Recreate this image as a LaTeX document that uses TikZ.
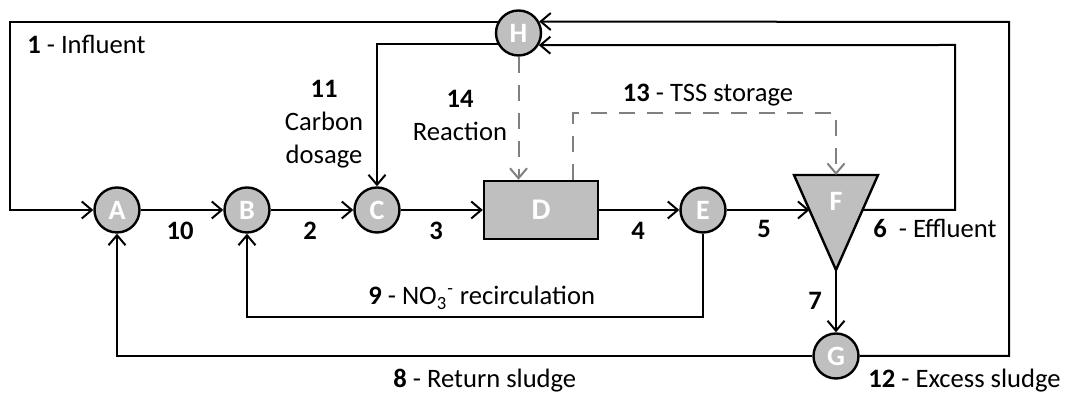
\documentclass[tikz,border=0pt]{standalone}
\usepackage{fontspec}
\setmainfont{Carlito}
\usetikzlibrary{arrows.meta}
\definecolor{grisnodo}{RGB}{191,191,191}
\definecolor{grisflecha}{RGB}{128,128,128}
\begin{document}
\begin{tikzpicture}[x=0.5pt, y=-0.5pt, font=\fontsize{13.3}{16.5}\selectfont]
  % Define node, line and label styles
  \tikzstyle{mynodo} = [circle, draw=black, fill=grisnodo, line width=1.2pt,
  minimum size=22.5pt, inner sep=0pt, text=white, font=\fontsize{14}{16}\selectfont\bfseries]
  \tikzstyle{mytanque} = [rectangle, draw=black, fill=grisnodo, line width=1.2pt,
  minimum width=57pt, minimum height=29pt, inner sep=0pt, text=white,
  font=\fontsize{15}{16}\selectfont\bfseries]
  \tikzstyle{myflecha} = [draw=black, line width=1pt, -{Straight Barb[length=5pt,width=8.5pt]}]
  \tikzstyle{mydashflecha} = [draw=grisflecha, line width=1pt, dash pattern=on 8pt off 6pt,
  -{Straight Barb[length=5pt,width=8.5pt]}]
  \tikzstyle{myetiqueta} = [inner sep=0pt, anchor=base]

  \useasboundingbox (0,0) rectangle (1073,394);

  % nodes
  \node[mynodo] (A) at (117,210) {A};
  \node[mynodo] (B) at (247,210) {B};
  \node[mynodo] (C) at (377,210) {C};
  \node[mytanque] (D) at (541,210) {D};
  \node[mynodo] (E) at (703,210) {E};
  \node[mynodo] (G) at (836,356) {G};
  \node[mynodo] (H) at (518.5,33) {H};

  % settler F
  \coordinate (Fl) at (794,175);
  \coordinate (Fr) at (878,175);
  \coordinate (Fb) at (836,270);
  \filldraw[fill=grisnodo, draw=black, line width=1.2pt, line join=miter] (Fl) -- (Fr) -- (Fb) -- cycle;
  \node[text=white, font=\fontsize{14}{16}\selectfont\bfseries] (F) at (836,201) {F};
  \coordinate (Fin) at (809.5,210);
  \coordinate (Fout) at (862.5,210);
  \coordinate (Ftop) at (836,175);

  % corners
  \coordinate (inl) at (10,210);
  \coordinate (efl) at (955,45);
  \coordinate (exs) at (1009,22);
  \coordinate (rec) at (703,317);
  \coordinate (tss) at (573,113.5);

  % main line
  \draw[myflecha] (H.151) -| (inl) -- (A);
  \draw[myflecha] (A) -- (B);
  \draw[myflecha] (B) -- (C);
  \draw[myflecha] (C) -- (D);
  \draw[myflecha] (D) -- (E);
  \draw[myflecha] (E) -- (Fin);
  \draw[myflecha] (Fb) -- (G);

  % recycles
  \draw[myflecha] (H.209) -| (C);
  \draw[myflecha] (Fout) -| (efl) -- (H.-31);
  \draw[myflecha] (G) -| (exs) -- (H.29);
  \draw[myflecha] (E) -- (rec) -| (B);
  \draw[myflecha] (G) -| (A);

  % dashed
  \draw[mydashflecha] (H) -- (H |- D.north);
  \draw[mydashflecha] (D.north -| tss) -- (tss) -| (Ftop);

  % labels
  \node[myetiqueta, align=center] (l11) at (324,164) {\textbf{11}\\Carbon\\dosage};
  \node[myetiqueta, anchor=base west] (l1) at (27,54) {\textbf{1} - Influent};
  \node[myetiqueta, align=center] (l14) at (460,141) {\textbf{14}\\Reaction};
  \node[myetiqueta] (l13) at (708,102) {\textbf{13} - TSS storage};
  \node[myetiqueta] (l10) at (180,240) {\textbf{10}};
  \node[myetiqueta] (l2) at (310,240) {\textbf{2}};
  \node[myetiqueta] (l3) at (436,240) {\textbf{3}};
  \node[myetiqueta] (l4) at (638,240) {\textbf{4}};
  \node[myetiqueta] (l5) at (764,238) {\textbf{5}};
  \node[myetiqueta, anchor=base west] (l6) at (873,238) {\textbf{6}~ - Effluent};
  \node[myetiqueta, anchor=base west] (l9) at (368,305) {\textbf{9} - NO\textsubscript{3}\textsuperscript{-} recirculation};
  \node[myetiqueta] (l7) at (815,310) {\textbf{7}};
  \node[myetiqueta, anchor=base west] (l8) at (393,388) {\textbf{8} - Return sludge};
  \node[myetiqueta, anchor=base west] (l12) at (868,388) {\textbf{12} - Excess sludge};
\end{tikzpicture}
\end{document}
